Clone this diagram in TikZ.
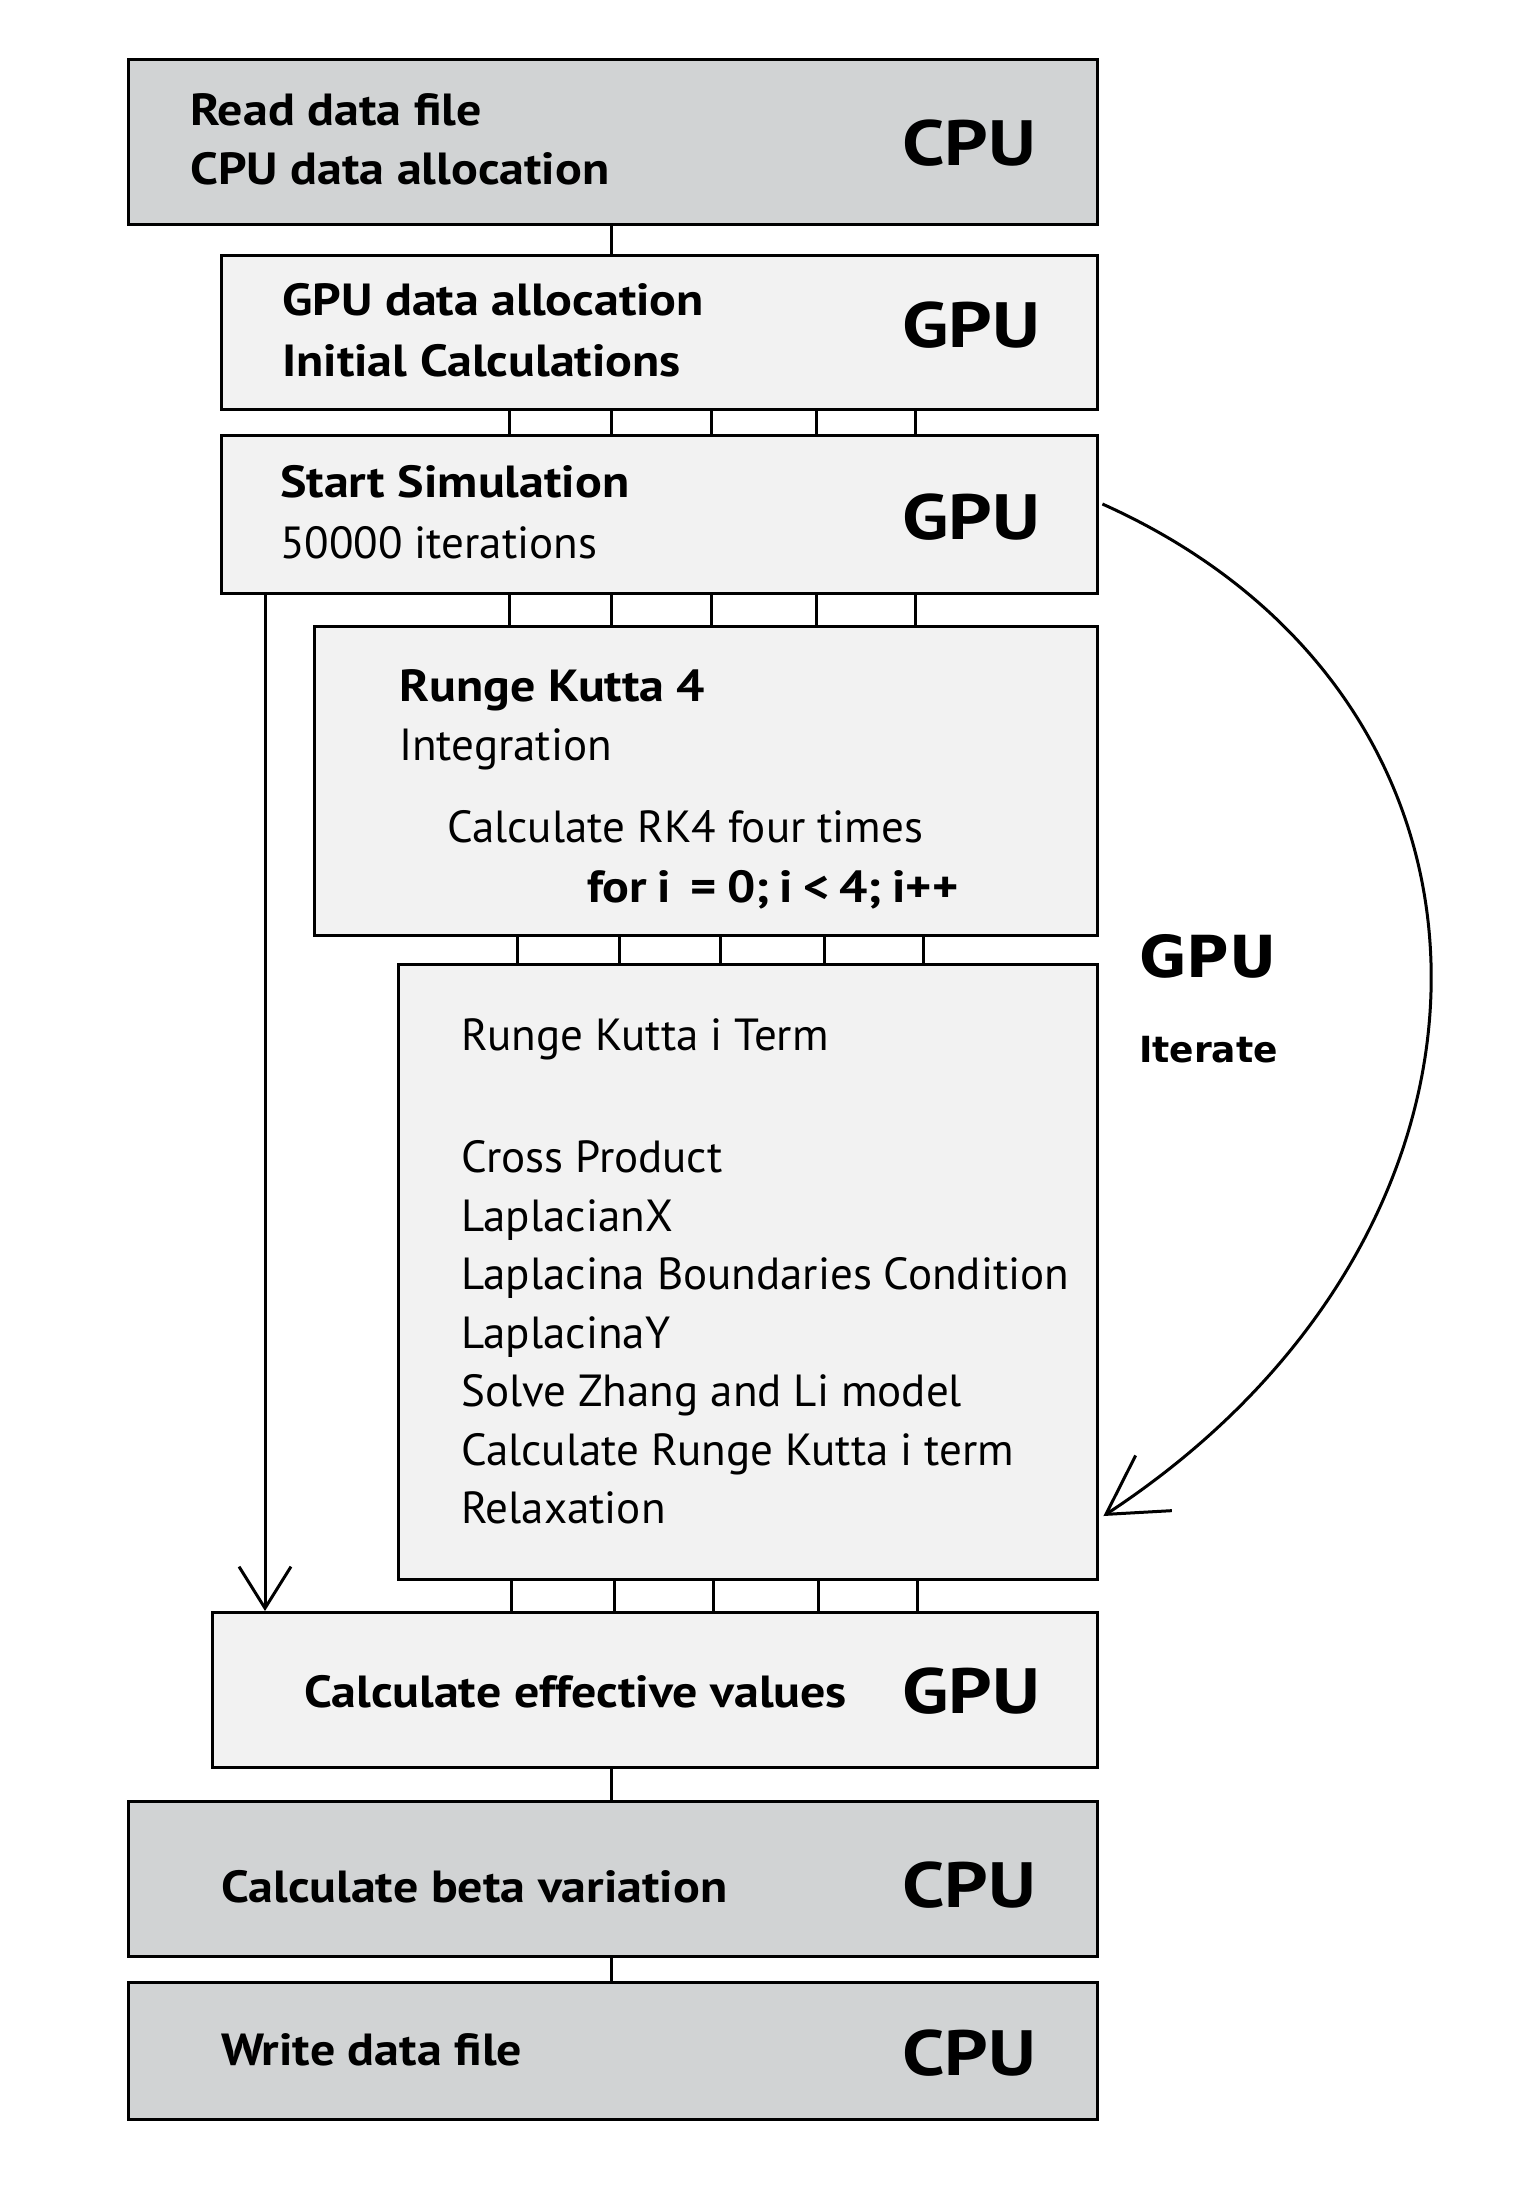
\documentclass[tikz,border=0pt]{standalone}
\usepackage{fontspec}
\setmainfont{PT Sans}
\newfontfamily\bwide{PT Sans Bold}[FakeStretch=1.11]
\newfontfamily\bigwide{PT Sans Bold}[FakeStretch=1.19]
\newfontfamily\dejavu{DejaVu Sans}
\usetikzlibrary{arrows.meta}
\definecolor{boxdark}{HTML}{D1D3D4}
\definecolor{boxlight}{HTML}{F2F2F2}
\tikzset{
  boxbase/.style={draw=black, line width=3.4pt, anchor=north west, inner sep=0pt, rectangle},
  darkbox/.style={boxbase, fill=boxdark},
  lightbox/.style={boxbase, fill=boxlight},
  txt/.style={anchor=base west, inner sep=0pt, font=\fontsize{45}{50}\selectfont},
  btxt/.style={anchor=base west, inner sep=0pt, font=\bwide\fontsize{45}{50}\selectfont},
  big/.style={anchor=base west, inner sep=0pt, font=\bigwide\fontsize{64}{70}\selectfont},
  conn/.style={draw=black, line width=3pt},
  arr/.style={draw=black, line width=3pt, -{Straight Barb[angle=64:49pt]}},
  arrc/.style={draw=black, line width=3pt, -{Straight Barb[angle=60:66pt]}},
}
\begin{document}
\begin{tikzpicture}[x=1pt,y=-1pt]
\useasboundingbox[fill=white] (0,0) rectangle (1517,2208);
% boxes
\node[darkbox,  minimum width=969pt, minimum height=165pt] (b1) at (127,58) {};
\node[lightbox, minimum width=876pt, minimum height=154pt] (b2) at (220,254) {};
\node[lightbox, minimum width=876pt, minimum height=158pt] (b3) at (220,434) {};
\node[lightbox, minimum width=783pt, minimum height=309pt] (b4) at (313,625) {};
\node[lightbox, minimum width=699pt, minimum height=615pt] (b5) at (397,963) {};
\node[lightbox, minimum width=885pt, minimum height=155pt] (b6) at (211,1611) {};
\node[darkbox,  minimum width=969pt, minimum height=155pt] (b7) at (127,1800) {};
\node[darkbox,  minimum width=969pt, minimum height=137pt] (b8) at (127,1981) {};
% texts
\node[btxt] (t1a) at (190,125) {Read data file};
\node[btxt] (t1b) at (190,184) {CPU data allocation};
\node[big]  (c1)  at (902,165) {CPU};
\node[btxt] (t2a) at (282,315) {GPU data allocation};
\node[btxt] (t2b) at (282,376) {Initial Calculations};
\node[big]  (g2)  at (902,347) {GPU};
\node[btxt] (t3a) at (280,497) {Start Simulation};
\node[txt]  (t3b) at (280,558) {50000 iterations};
\node[big]  (g3)  at (902,539) {GPU};
\node[btxt] (t4a) at (399,701) {Runge Kutta 4};
\node[txt]  (t4b) at (399,760) {Integration};
\node[txt]  (t4c) at (447,842) {Calculate RK4 four times};
\node[btxt] (t4d) at (587,902) {\spaceskip=10pt for i\ \ = 0; i < 4; i++};
\node[txt]  (t5a) at (461,1050) {Runge Kutta i Term};
\node[txt]  (t5b) at (461,1172) {Cross Product};
\node[txt]  (t5c) at (461,1231) {LaplacianX};
\node[txt]  (t5d) at (461,1289) {Laplacina Boundaries Condition};
\node[txt]  (t5e) at (461,1348) {LaplacinaY};
\node[txt]  (t5f) at (461,1406) {Solve Zhang and Li model};
\node[txt]  (t5g) at (461,1465) {Calculate Runge Kutta i term};
\node[txt]  (t5h) at (461,1523) {Relaxation};
\node[btxt] (t6)  at (304,1707) {Calculate effective values};
\node[big]  (g6)  at (902,1713) {GPU};
\node[btxt] (t7)  at (221,1902) {Calculate beta variation};
\node[big]  (c7)  at (902,1907) {CPU};
\node[btxt] (t8)  at (221,2065) {Write data file};
\node[big]  (c8)  at (902,2075) {CPU};
\node[anchor=base west, inner sep=0pt, font=\dejavu\bfseries\fontsize{58}{60}\selectfont] (gi) at (1139,977) {GPU};
\node[anchor=base west, inner sep=0pt, font=\dejavu\bfseries\fontsize{36}{40}\selectfont] (it) at (1139,1062) {Iterate};
% connectors
\draw[conn] (611,0 |- b1.south) -- (611,0 |- b2.north);
\foreach \x in {509,611,711,816,915} {
  \draw[conn] (\x,0 |- b2.south) -- (\x,0 |- b3.north);
  \draw[conn] (\x,0 |- b3.south) -- (\x,0 |- b4.north);
}
\foreach \x in {517,619,720,824,923} {
  \draw[conn] (\x,0 |- b4.south) -- (\x,0 |- b5.north);
}
\foreach \x in {511,614,713,818,917} {
  \draw[conn] (\x,0 |- b5.south) -- (\x,0 |- b6.north);
}
\draw[conn] (611,0 |- b6.south) -- (611,0 |- b7.north);
\draw[conn] (611,0 |- b7.south) -- (611,0 |- b8.north);
% arrows
\draw[arr] (265,0 |- b3.south) -- (265,0 |- b6.north);
\draw[arrc] ([xshift=3pt]b3.east |- 0,504) .. controls (1540,700) and (1540,1230) .. ([xshift=4pt]b5.east |- 0,1516);
\end{tikzpicture}
\end{document}
